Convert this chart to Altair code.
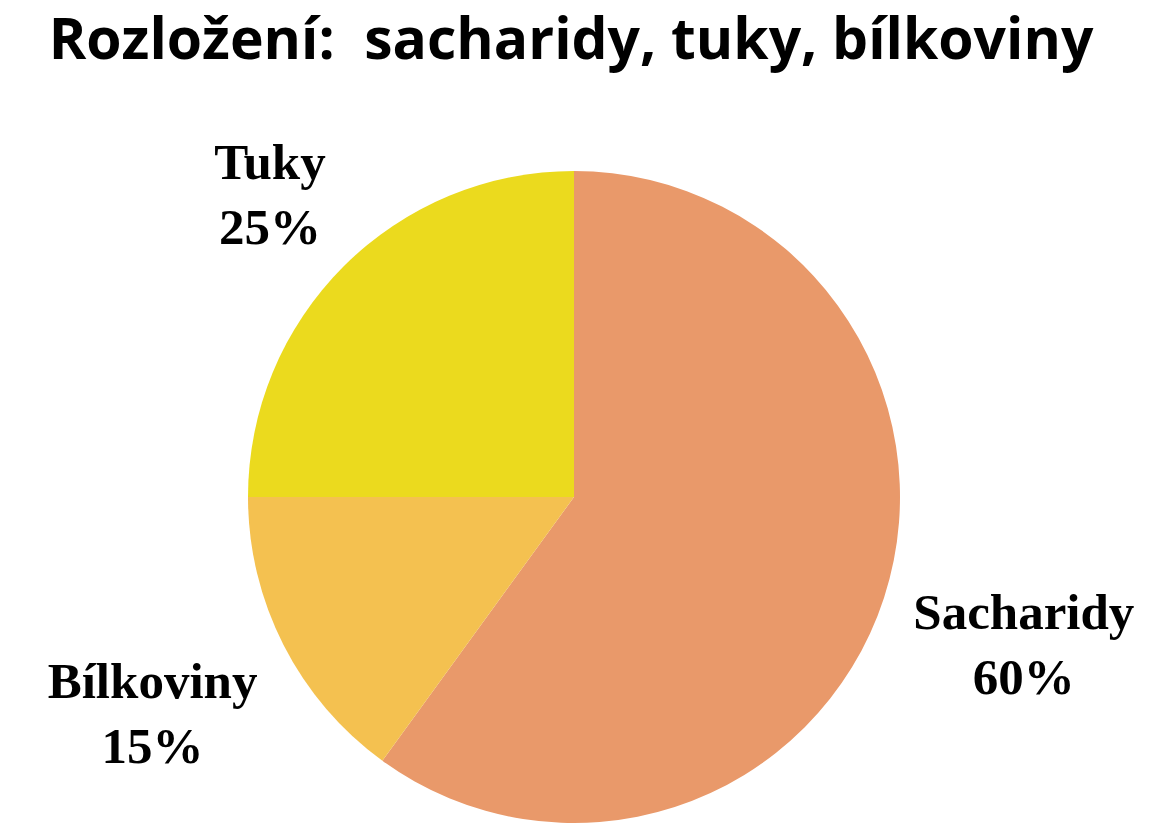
import altair as alt
import pandas as pd

categories = ["Sacharidy", "Bílkoviny", "Tuky"]
percents = [60, 15, 25]
order = [1, 2, 3]
colors = ["#E9996A", "#F4C150", "#EBDA1E"]

df = pd.DataFrame({"kategorie": categories, "podil": percents, "poradi": order})
df["popisek"] = [f"{c}\n{p}%" for c, p in zip(categories, percents)]

CX, CY = 566, 389
theta_scale = alt.Scale(domain=[0, 100])

pie = alt.Chart(df).mark_arc(strokeWidth=0).encode(
    theta=alt.Theta("podil:Q", stack=True, scale=theta_scale),
    order=alt.Order("poradi:Q"),
    color=alt.Color("kategorie:N", scale=alt.Scale(domain=categories, range=colors), legend=None),
    x=alt.value(CX),
    y=alt.value(CY),
    radius=alt.value(326),
)

labels = alt.Chart(df).mark_text(
    font="Liberation Serif", fontWeight="bold", fontSize=51,
    lineBreak="\n", lineHeight=65, baseline="middle", align="center", color="black", dy=-29,
).transform_window(
    kum="sum(podil)", sort=[alt.SortField("poradi")]
).transform_calculate(
    stred="datum.kum - datum.podil / 2",
    r="datum.kategorie == 'Tuky' ? 430 : 473",
).encode(
    theta=alt.Theta("stred:Q", stack=None, scale=theta_scale),
    text="popisek:N",
    x=alt.value(CX),
    y=alt.value(CY),
    radius=alt.Radius("r:Q", scale=None),
)

chart = alt.layer(pie, labels).properties(
    width=1154,
    height=722,
    autosize=alt.AutoSizeParams(type="none"),
    padding={"left": 0, "right": 0, "top": 100, "bottom": 0},
    title=alt.TitleParams(
        "Rozložení:\u00a0 sacharidy, tuky, bílkoviny",
        font="Open Sans", fontSize=57, fontWeight="bold", color="black",
        anchor="middle", baseline="alphabetic", offset=46, dx=-14, dy=54,
    ),
).configure_view(stroke=None)

chart.save("out.html", embed_options={"renderer": "svg", "actions": False})
